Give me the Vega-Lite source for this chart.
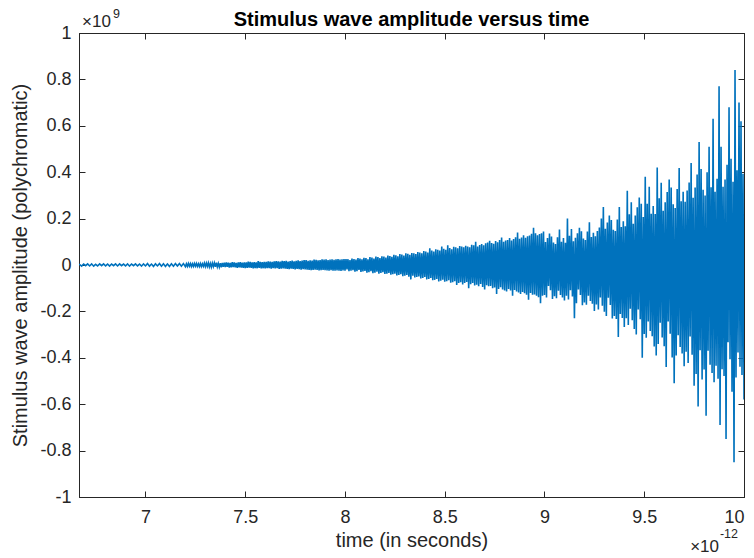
{
  "$schema": "https://vega.github.io/schema/vega-lite/v6.json",
  "width": 665,
  "height": 464,
  "autosize": {"type": "none"},
  "padding": {"left": 79, "top": 33, "right": 10, "bottom": 61},
  "background": "white",
  "title": {"text": "Stimulus wave amplitude versus time", "font": "Liberation Sans", "fontSize": 20, "fontWeight": "bold", "color": "#000000", "anchor": "middle", "baseline": "alphabetic", "offset": 8, "dy": 46},
  "config": {
    "view": {"stroke": "#262626", "strokeWidth": 1},
    "axis": {"grid": false, "domainColor": "#262626", "tickColor": "#262626", "labelColor": "#262626", "titleColor": "#262626", "labelFont": "Liberation Sans", "titleFont": "Liberation Sans", "labelFontSize": 18, "titleFontSize": 20, "titleFontWeight": "normal", "tickSize": -6}
  },
  "datasets": {
    "signal": [
      {"t":6.667,"a":0.004},{"t":6.68,"a":-0.005},{"t":6.69,"a":0.004},{"t":6.70,"a":-0.003},{"t":6.71,"a":0.005},{"t":6.72,"a":-0.004},{"t":6.73,"a":0.005},{"t":6.74,"a":-0.005},{"t":6.75,"a":0.003},{"t":6.76,"a":-0.004},
      {"t":6.77,"a":0.005},{"t":6.78,"a":-0.003},{"t":6.79,"a":0.005},{"t":6.80,"a":-0.004},{"t":6.81,"a":0.004},{"t":6.82,"a":-0.005},{"t":6.83,"a":0.004},{"t":6.84,"a":-0.003},{"t":6.85,"a":0.005},{"t":6.86,"a":-0.004},
      {"t":6.87,"a":0.005},{"t":6.88,"a":-0.003},{"t":6.89,"a":0.004},{"t":6.90,"a":-0.004},{"t":6.91,"a":0.005},{"t":6.92,"a":-0.005},{"t":6.93,"a":0.004},{"t":6.94,"a":-0.003},{"t":6.95,"a":0.005},{"t":6.96,"a":-0.004},
      {"t":6.97,"a":0.004},{"t":6.98,"a":-0.005},{"t":6.99,"a":0.005},{"t":7.00,"a":-0.004},{"t":7.01,"a":0.006},{"t":7.02,"a":-0.005},{"t":7.03,"a":0.004},{"t":7.04,"a":-0.006},{"t":7.05,"a":0.005},{"t":7.06,"a":-0.004},
      {"t":7.07,"a":0.006},{"t":7.08,"a":-0.005},{"t":7.09,"a":0.005},{"t":7.10,"a":-0.006},{"t":7.11,"a":0.004},{"t":7.12,"a":-0.006},{"t":7.13,"a":0.005},{"t":7.14,"a":-0.005},{"t":7.15,"a":0.006},{"t":7.16,"a":-0.004},
      {"t":7.17,"a":0.006},{"t":7.18,"a":-0.005},{"t":7.19,"a":0.006},
      {"t":7.200,"a":-0.007},{"t":7.205,"a":0.005},{"t":7.210,"a":-0.006},{"t":7.215,"a":0.007},{"t":7.220,"a":-0.005},{"t":7.225,"a":0.006},{"t":7.230,"a":-0.007},{"t":7.235,"a":0.005},{"t":7.240,"a":-0.006},{"t":7.245,"a":0.007},
      {"t":7.250,"a":-0.005},{"t":7.255,"a":0.007},{"t":7.260,"a":-0.006},{"t":7.265,"a":0.005},{"t":7.270,"a":-0.007},{"t":7.275,"a":0.006},{"t":7.280,"a":-0.007},{"t":7.285,"a":0.005},{"t":7.290,"a":-0.006},{"t":7.295,"a":0.008},
      {"t":7.300,"a":-0.007},{"t":7.305,"a":0.008},{"t":7.310,"a":-0.006},{"t":7.315,"a":0.009},{"t":7.320,"a":-0.008},{"t":7.325,"a":0.007},{"t":7.330,"a":-0.009},{"t":7.335,"a":0.008},{"t":7.340,"a":-0.007},{"t":7.345,"a":0.009},
      {"t":7.350,"a":-0.008},{"t":7.355,"a":0.010},{"t":7.360,"a":-0.008},{"t":7.365,"a":0.007},{"t":7.370,"a":-0.009},{"t":7.375,"a":0.008},{"t":7.380,"a":-0.010},{"t":7.385,"a":0.009},{"t":7.390,"a":-0.008},{"t":7.395,"a":0.010},
      {"t":7.400,"a":-0.009},{"t":7.405,"a":0.011},{"t":7.410,"a":-0.008},{"t":7.415,"a":0.010},{"t":7.420,"a":-0.011},{"t":7.425,"a":0.009},{"t":7.430,"a":-0.010},{"t":7.435,"a":0.012},{"t":7.440,"a":-0.009},{"t":7.445,"a":0.011},
      {"t":7.450,"a":-0.010},{"t":7.455,"a":0.009},{"t":7.460,"a":-0.012},{"t":7.465,"a":0.011},{"t":7.470,"a":-0.010},{"t":7.475,"a":0.012},{"t":7.480,"a":-0.011},{"t":7.485,"a":0.010},{"t":7.490,"a":-0.012},{"t":7.495,"a":0.011},
      {"t":7.500,"a":-0.013},{"t":7.505,"a":0.011},{"t":7.510,"a":-0.012},{"t":7.515,"a":0.014},{"t":7.520,"a":-0.011},{"t":7.525,"a":0.013},{"t":7.530,"a":-0.012},{"t":7.535,"a":0.011},{"t":7.540,"a":-0.014},{"t":7.545,"a":0.012},
      {"t":7.550,"a":-0.013},{"t":7.555,"a":0.011},{"t":7.560,"a":-0.014},{"t":7.565,"a":0.017},{"t":7.570,"a":-0.012},{"t":7.575,"a":0.013},{"t":7.580,"a":-0.015},{"t":7.585,"a":0.012},{"t":7.590,"a":-0.014},{"t":7.595,"a":0.013},
      {"t":7.600,"a":-0.015},{"t":7.605,"a":0.013},{"t":7.610,"a":-0.014},{"t":7.615,"a":0.016},{"t":7.620,"a":-0.013},{"t":7.625,"a":0.015},{"t":7.630,"a":-0.016},{"t":7.635,"a":0.014},{"t":7.640,"a":-0.013},{"t":7.645,"a":0.016},
      {"t":7.650,"a":-0.015},{"t":7.655,"a":0.017},{"t":7.660,"a":-0.014},{"t":7.665,"a":0.016},{"t":7.670,"a":-0.017},{"t":7.675,"a":0.015},{"t":7.680,"a":-0.016},{"t":7.685,"a":0.018},{"t":7.690,"a":-0.015},{"t":7.695,"a":0.017},
      {"t":7.700,"a":-0.016},{"t":7.705,"a":0.018},{"t":7.710,"a":-0.017},{"t":7.715,"a":0.015},{"t":7.720,"a":-0.018},{"t":7.725,"a":0.017},{"t":7.730,"a":-0.016},{"t":7.735,"a":0.019},{"t":7.740,"a":-0.017},{"t":7.745,"a":0.016},
      {"t":7.750,"a":-0.019},{"t":7.755,"a":0.018},{"t":7.760,"a":-0.017},{"t":7.765,"a":0.020},{"t":7.770,"a":-0.018},{"t":7.775,"a":0.017},{"t":7.780,"a":-0.020},{"t":7.785,"a":0.019},{"t":7.790,"a":-0.018},{"t":7.795,"a":0.021},
      {"t":7.800,"a":-0.019},{"t":7.805,"a":0.021},{"t":7.810,"a":-0.020},{"t":7.815,"a":0.018},{"t":7.820,"a":-0.021},{"t":7.825,"a":0.020},{"t":7.830,"a":-0.022},{"t":7.835,"a":0.019},{"t":7.840,"a":-0.021},{"t":7.845,"a":0.023},
      {"t":7.850,"a":-0.020},{"t":7.855,"a":0.022},{"t":7.860,"a":-0.021},{"t":7.865,"a":0.020},{"t":7.870,"a":-0.023},{"t":7.875,"a":0.021},{"t":7.880,"a":-0.022},{"t":7.885,"a":0.024},{"t":7.890,"a":-0.021},{"t":7.895,"a":0.023},
      {"t":7.900,"a":-0.022},{"t":7.905,"a":0.024},{"t":7.910,"a":-0.023},{"t":7.915,"a":0.021},{"t":7.920,"a":-0.025},{"t":7.925,"a":0.023},{"t":7.930,"a":-0.022},{"t":7.935,"a":0.025},{"t":7.940,"a":-0.024},{"t":7.945,"a":0.022},
      {"t":7.950,"a":-0.025},{"t":7.955,"a":0.024},{"t":7.960,"a":-0.023},{"t":7.965,"a":0.026},{"t":7.970,"a":-0.024},{"t":7.975,"a":0.023},{"t":7.980,"a":-0.026},{"t":7.985,"a":0.025},{"t":7.990,"a":-0.023},{"t":7.995,"a":0.026},
      {"t":8.000,"a":-0.024},{"t":8.005,"a":0.026},{"t":8.010,"a":-0.019},{"t":8.015,"a":0.025},{"t":8.020,"a":-0.027},{"t":8.025,"a":0.021},{"t":8.030,"a":-0.025},{"t":8.035,"a":0.028},{"t":8.040,"a":-0.022},{"t":8.045,"a":0.026},
      {"t":8.050,"a":-0.029},{"t":8.055,"a":0.023},{"t":8.060,"a":-0.027},{"t":8.065,"a":0.030},{"t":8.070,"a":-0.021},{"t":8.075,"a":0.028},{"t":8.080,"a":-0.030},{"t":8.085,"a":0.024},{"t":8.090,"a":-0.028},{"t":8.095,"a":0.031},
      {"t":8.100,"a":-0.026},{"t":8.105,"a":0.030},{"t":8.110,"a":-0.033},{"t":8.115,"a":0.025},{"t":8.120,"a":-0.031},{"t":8.125,"a":0.034},{"t":8.130,"a":-0.027},{"t":8.135,"a":0.032},{"t":8.140,"a":-0.035},{"t":8.145,"a":0.028},
      {"t":8.150,"a":-0.033},{"t":8.155,"a":0.036},{"t":8.160,"a":-0.029},{"t":8.165,"a":0.034},{"t":8.170,"a":-0.037},{"t":8.175,"a":0.030},{"t":8.180,"a":-0.034},{"t":8.185,"a":0.038},{"t":8.190,"a":-0.031},{"t":8.195,"a":0.036},
      {"t":8.200,"a":-0.039},{"t":8.205,"a":0.032},{"t":8.210,"a":-0.037},{"t":8.215,"a":0.041},{"t":8.220,"a":-0.034},{"t":8.225,"a":0.039},{"t":8.230,"a":-0.042},{"t":8.235,"a":0.035},{"t":8.240,"a":-0.040},{"t":8.245,"a":0.044},
      {"t":8.250,"a":-0.037},{"t":8.255,"a":0.042},{"t":8.260,"a":-0.045},{"t":8.265,"a":0.038},{"t":8.270,"a":-0.043},{"t":8.275,"a":0.047},{"t":8.280,"a":-0.040},{"t":8.285,"a":0.045},{"t":8.290,"a":-0.048},{"t":8.295,"a":0.041},
      {"t":8.300,"a":-0.046},{"t":8.305,"a":0.050},{"t":8.310,"a":-0.043},{"t":8.315,"a":0.048},{"t":8.320,"a":-0.051},{"t":8.325,"a":0.044},{"t":8.330,"a":-0.062},{"t":8.335,"a":0.052},{"t":8.340,"a":-0.046},{"t":8.345,"a":0.050},
      {"t":8.350,"a":-0.054},{"t":8.355,"a":0.047},{"t":8.360,"a":-0.052},{"t":8.365,"a":0.056},{"t":8.370,"a":-0.049},{"t":8.375,"a":0.054},{"t":8.380,"a":-0.058},{"t":8.385,"a":0.050},{"t":8.390,"a":-0.056},{"t":8.395,"a":0.060},
      {"t":8.400,"a":-0.052},{"t":8.405,"a":0.058},{"t":8.410,"a":-0.062},{"t":8.415,"a":0.054},{"t":8.420,"a":-0.060},{"t":8.425,"a":0.072},{"t":8.430,"a":-0.056},{"t":8.435,"a":0.062},{"t":8.440,"a":-0.066},{"t":8.445,"a":0.058},
      {"t":8.450,"a":-0.064},{"t":8.455,"a":0.068},{"t":8.460,"a":-0.060},{"t":8.465,"a":0.066},{"t":8.470,"a":-0.071},{"t":8.475,"a":0.062},{"t":8.480,"a":-0.068},{"t":8.485,"a":0.080},{"t":8.490,"a":-0.064},{"t":8.495,"a":0.070},
      {"t":8.500,"a":-0.072},{"t":8.505,"a":0.066},{"t":8.510,"a":-0.070},{"t":8.515,"a":0.085},{"t":8.520,"a":-0.066},{"t":8.525,"a":0.073},{"t":8.530,"a":-0.076},{"t":8.535,"a":0.068},{"t":8.540,"a":-0.074},{"t":8.545,"a":0.079},
      {"t":8.550,"a":-0.070},{"t":8.555,"a":0.076},{"t":8.560,"a":-0.086},{"t":8.565,"a":0.072},{"t":8.570,"a":-0.078},{"t":8.575,"a":0.082},{"t":8.580,"a":-0.074},{"t":8.585,"a":0.080},{"t":8.590,"a":-0.084},{"t":8.595,"a":0.076},
      {"t":8.600,"a":-0.078},{"t":8.605,"a":0.083},{"t":8.610,"a":-0.073},{"t":8.615,"a":0.080},{"t":8.620,"a":-0.100},{"t":8.625,"a":0.076},{"t":8.630,"a":-0.083},{"t":8.635,"a":0.087},{"t":8.640,"a":-0.077},{"t":8.645,"a":0.085},
      {"t":8.650,"a":-0.088},{"t":8.655,"a":0.100},{"t":8.660,"a":-0.085},{"t":8.665,"a":0.080},{"t":8.670,"a":-0.092},{"t":8.675,"a":0.086},{"t":8.680,"a":-0.082},{"t":8.685,"a":0.090},{"t":8.690,"a":-0.095},{"t":8.695,"a":0.085},
      {"t":8.700,"a":-0.105},{"t":8.705,"a":0.094},{"t":8.710,"a":-0.087},{"t":8.715,"a":0.097},{"t":8.720,"a":-0.092},{"t":8.725,"a":0.104},{"t":8.730,"a":-0.090},{"t":8.735,"a":0.095},{"t":8.740,"a":-0.100},{"t":8.745,"a":0.092},
      {"t":8.750,"a":-0.097},{"t":8.755,"a":0.103},{"t":8.760,"a":-0.125},{"t":8.765,"a":0.098},{"t":8.770,"a":-0.103},{"t":8.775,"a":0.108},{"t":8.780,"a":-0.096},{"t":8.785,"a":0.118},{"t":8.790,"a":-0.106},{"t":8.795,"a":0.100},
      {"t":8.800,"a":-0.110},{"t":8.805,"a":0.105},{"t":8.810,"a":-0.114},{"t":8.815,"a":0.108},{"t":8.820,"a":-0.103},{"t":8.825,"a":0.116},{"t":8.830,"a":-0.110},{"t":8.835,"a":0.106},{"t":8.840,"a":-0.132},{"t":8.845,"a":0.112},
      {"t":8.850,"a":-0.108},{"t":8.855,"a":0.120},{"t":8.860,"a":-0.114},{"t":8.865,"a":0.140},{"t":8.870,"a":-0.118},{"t":8.875,"a":0.113},{"t":8.880,"a":-0.125},{"t":8.885,"a":0.119},{"t":8.890,"a":-0.116},{"t":8.895,"a":0.128},
      {"t":8.900,"a":-0.122},{"t":8.905,"a":0.117},{"t":8.910,"a":-0.128},{"t":8.915,"a":0.124},{"t":8.920,"a":-0.150},{"t":8.925,"a":0.127},{"t":8.930,"a":-0.121},{"t":8.935,"a":0.135},{"t":8.940,"a":-0.128},{"t":8.945,"a":0.160},
      {"t":8.950,"a":-0.127},{"t":8.955,"a":0.137},{"t":8.960,"a":-0.132},{"t":8.965,"a":0.128},{"t":8.970,"a":-0.139},{"t":8.975,"a":0.134},{"t":8.980,"a":-0.165},{"t":8.985,"a":0.137},{"t":8.990,"a":-0.132},{"t":8.995,"a":0.144},
      {"t":9.000,"a":-0.129},{"t":9.005,"a":0.099},{"t":9.010,"a":-0.140},{"t":9.015,"a":0.116},{"t":9.020,"a":-0.090},{"t":9.025,"a":0.136},{"t":9.030,"a":-0.109},{"t":9.035,"a":0.123},{"t":9.040,"a":-0.147},{"t":9.045,"a":0.097},
      {"t":9.050,"a":-0.135},{"t":9.055,"a":0.090},{"t":9.060,"a":-0.143},{"t":9.065,"a":0.120},{"t":9.070,"a":-0.111},{"t":9.075,"a":0.153},{"t":9.080,"a":-0.129},{"t":9.085,"a":0.100},{"t":9.090,"a":-0.140},{"t":9.095,"a":0.116},
      {"t":9.100,"a":-0.153},{"t":9.105,"a":0.096},{"t":9.110,"a":-0.132},{"t":9.115,"a":0.200},{"t":9.120,"a":-0.149},{"t":9.125,"a":0.126},{"t":9.130,"a":-0.109},{"t":9.135,"a":0.155},{"t":9.140,"a":-0.136},{"t":9.145,"a":0.102},
      {"t":9.150,"a":-0.230},{"t":9.155,"a":0.117},{"t":9.160,"a":-0.165},{"t":9.165,"a":0.137},{"t":9.170,"a":-0.106},{"t":9.175,"a":0.160},{"t":9.180,"a":-0.129},{"t":9.185,"a":0.145},{"t":9.190,"a":-0.173},{"t":9.195,"a":0.114},
      {"t":9.200,"a":-0.162},{"t":9.205,"a":0.108},{"t":9.210,"a":-0.171},{"t":9.215,"a":0.144},{"t":9.220,"a":-0.133},{"t":9.225,"a":0.184},{"t":9.230,"a":-0.155},{"t":9.235,"a":0.121},{"t":9.240,"a":-0.167},{"t":9.245,"a":0.139},
      {"t":9.250,"a":-0.198},{"t":9.255,"a":0.124},{"t":9.260,"a":-0.170},{"t":9.265,"a":0.146},{"t":9.270,"a":-0.192},{"t":9.275,"a":0.162},{"t":9.280,"a":-0.140},{"t":9.285,"a":0.200},{"t":9.290,"a":-0.176},{"t":9.295,"a":0.250},
      {"t":9.300,"a":-0.202},{"t":9.305,"a":0.156},{"t":9.310,"a":-0.220},{"t":9.315,"a":0.183},{"t":9.320,"a":-0.141},{"t":9.325,"a":0.213},{"t":9.330,"a":-0.172},{"t":9.335,"a":0.194},{"t":9.340,"a":-0.231},{"t":9.345,"a":0.152},
      {"t":9.350,"a":-0.220},{"t":9.355,"a":0.147},{"t":9.360,"a":-0.233},{"t":9.365,"a":0.196},{"t":9.370,"a":-0.310},{"t":9.375,"a":0.250},{"t":9.380,"a":-0.211},{"t":9.385,"a":0.164},{"t":9.390,"a":-0.228},{"t":9.395,"a":0.189},
      {"t":9.400,"a":-0.267},{"t":9.405,"a":0.167},{"t":9.410,"a":-0.230},{"t":9.415,"a":0.320},{"t":9.420,"a":-0.259},{"t":9.425,"a":0.219},{"t":9.430,"a":-0.189},{"t":9.435,"a":0.270},{"t":9.440,"a":-0.238},{"t":9.445,"a":0.178},
      {"t":9.450,"a":-0.276},{"t":9.455,"a":0.213},{"t":9.460,"a":-0.300},{"t":9.465,"a":0.249},{"t":9.470,"a":-0.192},{"t":9.475,"a":0.291},{"t":9.480,"a":-0.234},{"t":9.485,"a":0.264},{"t":9.490,"a":-0.400},{"t":9.495,"a":0.207},
      {"t":9.500,"a":-0.297},{"t":9.505,"a":0.380},{"t":9.510,"a":-0.314},{"t":9.515,"a":0.264},{"t":9.520,"a":-0.244},{"t":9.525,"a":0.337},{"t":9.530,"a":-0.284},{"t":9.535,"a":0.221},{"t":9.540,"a":-0.307},{"t":9.545,"a":0.254},
      {"t":9.550,"a":-0.351},{"t":9.555,"a":0.220},{"t":9.560,"a":-0.390},{"t":9.565,"a":0.420},{"t":9.570,"a":-0.341},{"t":9.575,"a":0.288},{"t":9.580,"a":-0.249},{"t":9.585,"a":0.355},{"t":9.590,"a":-0.312},{"t":9.595,"a":0.234},
      {"t":9.600,"a":-0.350},{"t":9.605,"a":0.270},{"t":9.610,"a":-0.440},{"t":9.615,"a":0.315},{"t":9.620,"a":-0.243},{"t":9.625,"a":0.369},{"t":9.630,"a":-0.296},{"t":9.635,"a":0.334},{"t":9.640,"a":-0.399},{"t":9.645,"a":0.262},
      {"t":9.650,"a":-0.510},{"t":9.655,"a":0.246},{"t":9.660,"a":-0.390},{"t":9.665,"a":0.328},{"t":9.670,"a":-0.303},{"t":9.675,"a":0.418},{"t":9.680,"a":-0.353},{"t":9.685,"a":0.275},{"t":9.690,"a":-0.381},{"t":9.695,"a":0.316},
      {"t":9.700,"a":-0.436},{"t":9.705,"a":0.273},{"t":9.710,"a":-0.374},{"t":9.715,"a":0.321},{"t":9.720,"a":-0.422},{"t":9.725,"a":0.356},{"t":9.730,"a":-0.308},{"t":9.735,"a":0.440},{"t":9.740,"a":-0.387},{"t":9.745,"a":0.290},
      {"t":9.750,"a":-0.520},{"t":9.755,"a":0.334},{"t":9.760,"a":-0.470},{"t":9.765,"a":0.390},{"t":9.770,"a":-0.610},{"t":9.775,"a":0.530},{"t":9.780,"a":-0.367},{"t":9.785,"a":0.414},{"t":9.790,"a":-0.494},{"t":9.795,"a":0.324},
      {"t":9.800,"a":-0.450},{"t":9.805,"a":0.300},{"t":9.810,"a":-0.650},{"t":9.815,"a":0.400},{"t":9.820,"a":-0.370},{"t":9.825,"a":0.510},{"t":9.830,"a":-0.430},{"t":9.835,"a":0.335},{"t":9.840,"a":-0.465},{"t":9.845,"a":0.630},
      {"t":9.850,"a":-0.505},{"t":9.855,"a":0.316},{"t":9.860,"a":-0.434},{"t":9.865,"a":0.372},{"t":9.870,"a":-0.490},{"t":9.875,"a":0.770},{"t":9.880,"a":-0.690},{"t":9.885,"a":0.510},{"t":9.890,"a":-0.449},{"t":9.895,"a":0.337},
      {"t":9.900,"a":-0.478},{"t":9.905,"a":0.369},{"t":9.910,"a":-0.750},{"t":9.915,"a":0.432},{"t":9.920,"a":-0.333},{"t":9.925,"a":0.680},{"t":9.930,"a":-0.406},{"t":9.935,"a":0.458},{"t":9.940,"a":-0.546},{"t":9.945,"a":0.359},
      {"t":9.950,"a":-0.850},{"t":9.955,"a":0.840},{"t":9.960,"a":-0.485},{"t":9.965,"a":0.408},{"t":9.970,"a":-0.377},{"t":9.975,"a":0.700},{"t":9.980,"a":-0.439},{"t":9.985,"a":0.620},{"t":9.990,"a":-0.474},{"t":9.995,"a":0.393},
      {"t":10.000,"a":-0.580}
    ],
    "yexpBase": [{"t": 6.6667, "a": 1, "label": "×10"}],
    "yexpSup": [{"t": 6.6667, "a": 1, "label": "9"}],
    "xexpBase": [{"t": 10, "a": -1, "label": "×10"}],
    "xexpSup": [{"t": 10, "a": -1, "label": "-12"}]
  },
  "layer": [
    {
      "data": {"name": "signal"},
      "mark": {"type": "line", "color": "#0072BD", "strokeWidth": 1.6, "clip": true},
      "encoding": {
        "x": {"field": "t", "type": "quantitative", "scale": {"domain": [6.6667, 10], "nice": false, "zero": false},
              "axis": {"orient": "bottom", "values": [7, 7.5, 8, 8.5, 9, 9.5, 10], "format": "~g", "title": "time (in seconds)", "labelPadding": 17, "titlePadding": 4}},
        "y": {"field": "a", "type": "quantitative", "scale": {"domain": [-1, 1], "nice": false, "zero": false},
              "axis": {"orient": "left", "values": [-1, -0.8, -0.6, -0.4, -0.2, 0, 0.2, 0.4, 0.6, 0.8, 1], "labelExpr": "datum.value < 0 ? '-' + format(-datum.value, '~g') : format(datum.value, '~g')", "title": "Stimulus wave amplitude (polychromatic)", "labelPadding": 14, "titlePadding": 9}}
      }
    },
    {
      "data": {"name": "yexpBase"},
      "mark": {"type": "text", "align": "left", "baseline": "alphabetic", "dx": 3, "dy": -6, "font": "Liberation Sans", "fontSize": 17, "color": "#262626"},
      "encoding": {
        "x": {"field": "t", "type": "quantitative", "axis": {"orient": "top", "labels": false, "title": null, "labelPadding": 0, "minExtent": 0, "maxExtent": 0, "values": [7, 7.5, 8, 8.5, 9, 9.5, 10]}},
        "y": {"field": "a", "type": "quantitative", "axis": {"orient": "right", "labels": false, "title": null, "labelPadding": 0, "minExtent": 0, "maxExtent": 0, "values": [-1, -0.8, -0.6, -0.4, -0.2, 0, 0.2, 0.4, 0.6, 0.8, 1]}},
        "text": {"field": "label"}
      }
    },
    {
      "data": {"name": "yexpSup"},
      "mark": {"type": "text", "align": "left", "baseline": "alphabetic", "dx": 34, "dy": -15, "font": "Liberation Sans", "fontSize": 12.5, "color": "#262626"},
      "encoding": {
        "x": {"field": "t", "type": "quantitative", "axis": null},
        "y": {"field": "a", "type": "quantitative", "axis": null},
        "text": {"field": "label"}
      }
    },
    {
      "data": {"name": "xexpBase"},
      "mark": {"type": "text", "align": "right", "baseline": "alphabetic", "dx": -25, "dy": 55, "font": "Liberation Sans", "fontSize": 17, "color": "#262626"},
      "encoding": {
        "x": {"field": "t", "type": "quantitative", "axis": null},
        "y": {"field": "a", "type": "quantitative", "axis": null},
        "text": {"field": "label"}
      }
    },
    {
      "data": {"name": "xexpSup"},
      "mark": {"type": "text", "align": "right", "baseline": "alphabetic", "dx": -6, "dy": 41, "font": "Liberation Sans", "fontSize": 12.5, "color": "#262626"},
      "encoding": {
        "x": {"field": "t", "type": "quantitative", "axis": null},
        "y": {"field": "a", "type": "quantitative", "axis": null},
        "text": {"field": "label"}
      }
    }
  ],
  "resolve": {"axis": {"x": "independent", "y": "independent"}}
}
